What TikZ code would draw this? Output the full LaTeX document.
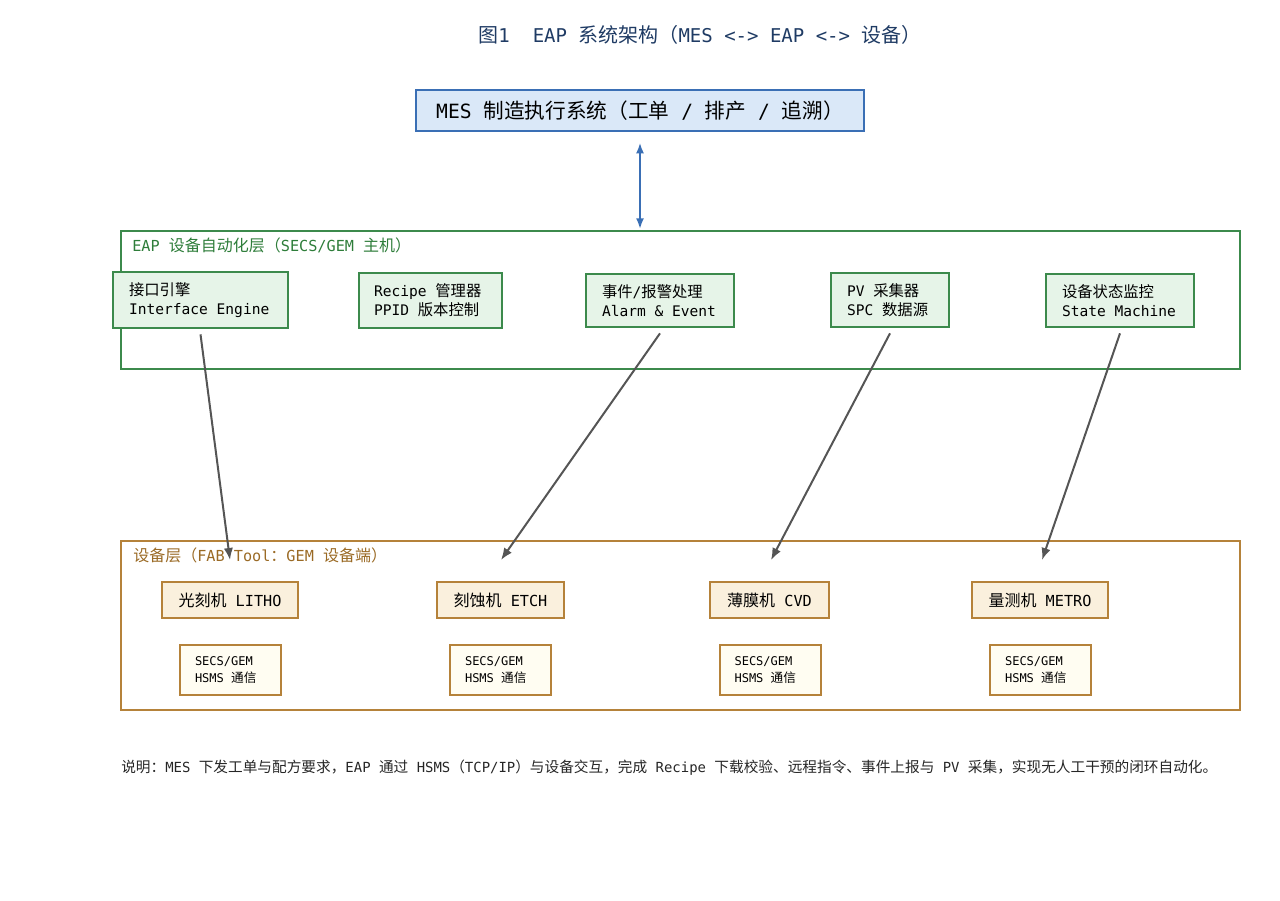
\documentclass[tikz,border=0pt]{standalone}
\usepackage{fontspec}
\setmainfont{Noto Sans CJK SC}
\newfontfamily\latf{DejaVu Sans Mono}[Scale=0.95]
\newcommand\mylat[1]{{\latf #1}}
\newcommand\lsp{{\latf\char32\relax}}
\usetikzlibrary{arrows.meta}
\definecolor{titlec}{HTML}{1F3B64}
\definecolor{mesborder}{HTML}{3A6FB5}
\definecolor{mesfill}{HTML}{DAE8F8}
\definecolor{eapborder}{HTML}{3C8A4C}
\definecolor{eapfill}{HTML}{E6F4E8}
\definecolor{eaptext}{HTML}{2E7D3A}
\definecolor{devborder}{HTML}{B5823A}
\definecolor{devtext}{HTML}{9A6A25}
\definecolor{machfill}{HTML}{FAF0DD}
\definecolor{secsfill}{HTML}{FFFDF2}
\definecolor{arrowc}{HTML}{555555}
\tikzset{
  mesbox/.style={draw=mesborder, fill=mesfill, line width=1.5pt, minimum width=448*0.75pt, minimum height=41*0.75pt, inner sep=0pt, font=\fontsize{15.5}{18}\selectfont, text=black},
  layerbox/.style={line width=1.2pt},
  eapnode/.style={draw=eapborder, fill=eapfill, line width=1.5pt, align=left, inner xsep=16*0.75pt, inner ysep=0pt, font=\fontsize{11.5}{14.5}\selectfont, text=black},
  machnode/.style={draw=devborder, fill=machfill, line width=1.5pt, inner sep=0pt, minimum height=36*0.75pt, font=\fontsize{12}{14}\selectfont, text=black},
  secsnode/.style={draw=devborder, fill=secsfill, line width=1.5pt, align=left, inner xsep=15*0.75pt, inner ysep=0pt, text width=71*0.75pt, minimum height=50*0.75pt, font=\fontsize{9.5}{12.5}\selectfont, text=black},
  flowarrow/.style={draw=arrowc, line width=1.5pt, -{Latex[length=9pt,width=7pt]}},
}
\begin{document}
\begin{tikzpicture}[x=0.75pt,y=-0.75pt]
\useasboundingbox (0,0) rectangle (1280,900);
% title
\node[anchor=center, text=titlec, font=\fontsize{15}{18}\selectfont] (title) at (700,35) {图\mylat{1}\lsp\lsp\mylat{EAP}\lsp 系统架构（\mylat{MES}\lsp\mylat{<->}\lsp\mylat{EAP}\lsp\mylat{<->}\lsp 设备）};
% MES
\node[mesbox] (mes) at (640,110.5) {\mylat{MES}\lsp 制造执行系统（工单\lsp\mylat{/}\lsp 排产\lsp\mylat{/}\lsp 追溯）};
% EAP layer
\draw[draw=eapborder, layerbox] (121,231) rectangle (1240,369);
\node[anchor=west, text=eaptext, font=\fontsize{12}{14}\selectfont, inner sep=0pt] (eaplabel) at (132,245) {\mylat{EAP}\lsp 设备自动化层（\mylat{SECS/GEM}\lsp 主机）};
\coordinate (eaptop) at (640,229);
\draw[draw=mesborder, line width=1.5pt, {Latex[length=8pt,width=6pt]}-{Latex[length=8pt,width=6pt]}] ([yshift=-8pt]mes.south) -- (eaptop);
% EAP nodes
\node[eapnode, text width=143*0.75pt, minimum height=56*0.75pt] (ie) at (200.5,300) {接口引擎\\\mylat{Interface}\lsp\mylat{Engine}};
\node[eapnode, text width=113*0.75pt, minimum height=55*0.75pt, inner xsep=15*0.75pt] (rm) at (430.5,300.5) {\mylat{Recipe}\lsp 管理器\\\mylat{PPID}\lsp 版本控制};
\node[eapnode, text width=116*0.75pt, minimum height=53*0.75pt] (ae) at (660,300.5) {事件\mylat{/}报警处理\\\mylat{Alarm}\lsp\mylat{\&}\lsp\mylat{Event}};
\node[eapnode, text width=86*0.75pt, minimum height=54*0.75pt] (pv) at (890,300) {\mylat{PV}\lsp 采集器\\\mylat{SPC}\lsp 数据源};
\node[eapnode, text width=116*0.75pt, minimum height=53*0.75pt] (sm) at (1120,300.5) {设备状态监控\\\mylat{State}\lsp\mylat{Machine}};
% Device layer
\draw[draw=devborder, layerbox] (121,541) rectangle (1240,710);
\node[anchor=west, text=devtext, font=\fontsize{12}{14}\selectfont, inner sep=0pt] (devlabel) at (133,555) {设备层（\mylat{FAB}\lsp\mylat{Tool}：\mylat{GEM}\lsp 设备端）};
% machines
\node[machnode, minimum width=136*0.75pt] (litho) at (230,600) {光刻机\lsp\mylat{LITHO}};
\node[machnode, minimum width=127*0.75pt] (etch) at (500.5,600) {刻蚀机\lsp\mylat{ETCH}};
\node[machnode, minimum width=119*0.75pt] (cvd) at (769.5,600) {薄膜机\lsp\mylat{CVD}};
\node[machnode, minimum width=136*0.75pt] (metro) at (1040,600) {量测机\lsp\mylat{METRO}};
% secs
\node[secsnode] (s1) at (230.5,670) {\mylat{SECS/GEM}\\\mylat{HSMS}\lsp 通信};
\node[secsnode] (s2) at (500.5,670) {\mylat{SECS/GEM}\\\mylat{HSMS}\lsp 通信};
\node[secsnode] (s3) at (770,670) {\mylat{SECS/GEM}\\\mylat{HSMS}\lsp 通信};
\node[secsnode] (s4) at (1040.5,670) {\mylat{SECS/GEM}\\\mylat{HSMS}\lsp 通信};
% arrows
\coordinate (e1) at (230,560);
\coordinate (e2) at (501,560);
\coordinate (e3) at (771,560);
\coordinate (e4) at (1042,560);
\draw[flowarrow] ([yshift=-4pt]ie.south) -- (e1);
\draw[flowarrow] ([yshift=-4pt]ae.south) -- (e2);
\draw[flowarrow] ([yshift=-4pt]pv.south) -- (e3);
\draw[flowarrow] ([yshift=-4pt]sm.south) -- (e4);
% caption
\node[anchor=west, text=black!85, font=\fontsize{11}{13}\selectfont, inner sep=0pt] (caption) at (121,768) {说明：\mylat{MES}\lsp 下发工单与配方要求，\mylat{EAP}\lsp 通过\lsp\mylat{HSMS}（\mylat{TCP/IP}）与设备交互，完成\lsp\mylat{Recipe}\lsp 下载校验、远程指令、事件上报与\lsp\mylat{PV}\lsp 采集，实现无人工干预的闭环自动化。};
\end{tikzpicture}
\end{document}
